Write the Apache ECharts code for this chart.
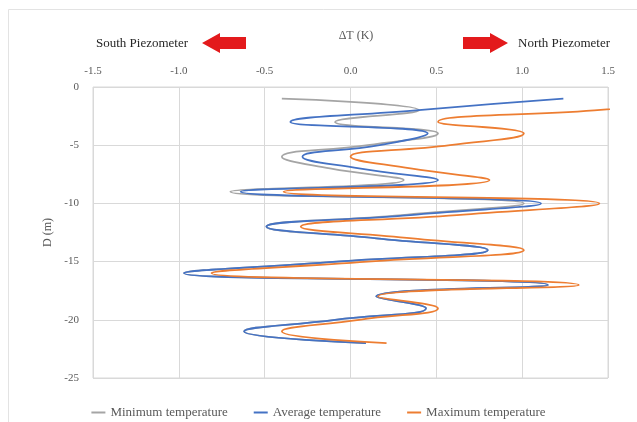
<!DOCTYPE html>
<html>
<head>
<meta charset="utf-8">
<script src="https://cdn.jsdelivr.net/npm/echarts@6/dist/echarts.min.js"></script>
<style>html,body{margin:0;padding:0;background:#fff}#c{width:637px;height:422px}</style>
</head>
<body>
<div id="c"></div>
<script>
const depths = [-1,-2,-3,-4,-5,-6,-7,-8,-9,-10,-11,-12,-13,-14,-15,-16,-17,-18,-19,-20,-21,-22];
const minTemp = [-0.40,0.40,-0.09,0.51,0.10,-0.40,-0.12,0.31,-0.70,1.01,0.30,-0.49,0.15,0.80,-0.08,-0.97,1.15,0.15,0.44,-0.09,-0.62,0.09];
const avgTemp = [1.24,0.38,-0.35,0.45,0.17,-0.28,0.05,0.51,-0.64,1.11,0.35,-0.49,0.15,0.80,-0.08,-0.97,1.15,0.15,0.44,-0.09,-0.62,0.09];
const maxTemp = [2.30,1.42,0.51,1.01,0.58,0.00,0.35,0.81,-0.39,1.45,0.62,-0.29,0.36,1.01,0.10,-0.81,1.33,0.16,0.51,0.05,-0.40,0.21];
const seriesNames = ['Minimum temperature','Average temperature','Maximum temperature'];
const xTicks = [-1.5,-1.0,-0.5,0.0,0.5,1.0,1.5];
const yTicks = [0,-5,-10,-15,-20,-25];

const font = 'Liberation Serif';
const pairs = arr => arr.map((v,i)=>[v, depths[i]]);
const chart = echarts.init(document.getElementById('c'), null, {renderer:'canvas'});
chart.setOption({
  animation:false,
  backgroundColor:'#fff',
  title:{text:'ΔT (K)', left:351, top:25, textAlign:'center',
    textStyle:{fontFamily:font, fontSize:12, fontWeight:'normal', color:'#595959'}},
  grid:{left:93, right:29, top:87, bottom:44, show:true, borderColor:'#D9D9D9', borderWidth:1},
  xAxis:{type:'value', position:'top', min:xTicks[0], max:xTicks[xTicks.length-1], interval:0.5,
    axisLine:{show:false}, axisTick:{show:false},
    axisLabel:{fontFamily:font, fontSize:11, color:'#595959', margin:10, formatter:v=>v.toFixed(1)},
    splitLine:{lineStyle:{color:'#D9D9D9'}}},
  yAxis:{type:'value', min:yTicks[yTicks.length-1], max:yTicks[0], interval:5,
    name:'D (m)', nameLocation:'middle', nameGap:33, nameRotate:90,
    nameTextStyle:{fontFamily:font, fontSize:12, color:'#595959'},
    axisLine:{show:false}, axisTick:{show:false},
    axisLabel:{fontFamily:font, fontSize:11, color:'#595959', margin:14},
    splitLine:{lineStyle:{color:'#D9D9D9'}}},
  legend:{top:401, left:'center', itemGap:26, itemWidth:14, itemHeight:2, icon:'rect',
    textStyle:{fontFamily:font, fontSize:13, color:'#595959'}, data:seriesNames},
  series:[
    {name:seriesNames[0], type:'line', data:pairs(minTemp), smooth:0.5, showSymbol:false,
      lineStyle:{color:'#A5A5A5', width:1.75}, itemStyle:{color:'#A5A5A5'}},
    {name:seriesNames[1], type:'line', data:pairs(avgTemp), smooth:0.5, showSymbol:false,
      lineStyle:{color:'#4472C4', width:1.75}, itemStyle:{color:'#4472C4'}},
    {name:seriesNames[2], type:'line', data:pairs(maxTemp), smooth:0.5, showSymbol:false,
      lineStyle:{color:'#ED7D31', width:1.75}, itemStyle:{color:'#ED7D31'}}
  ],
  graphic:[
    {type:'rect', shape:{x:8.5, y:9.5, width:640, height:420}, style:{fill:'none', stroke:'#E3E3E3', lineWidth:1}, silent:true},
    {type:'text', left:96, top:37, style:{text:'South Piezometer', fontFamily:font, fontSize:13, fill:'#262626'}},
    {type:'text', left:518, top:37, style:{text:'North Piezometer', fontFamily:font, fontSize:13, fill:'#262626'}},
    {type:'polygon', shape:{points:[[202,43],[220,33],[220,37],[246,37],[246,49],[220,49],[220,53]]}, style:{fill:'#E31A1C'}},
    {type:'polygon', shape:{points:[[508,43],[490,33],[490,37],[463,37],[463,49],[490,49],[490,53]]}, style:{fill:'#E31A1C'}}
  ]
});
</script>
</body>
</html>
